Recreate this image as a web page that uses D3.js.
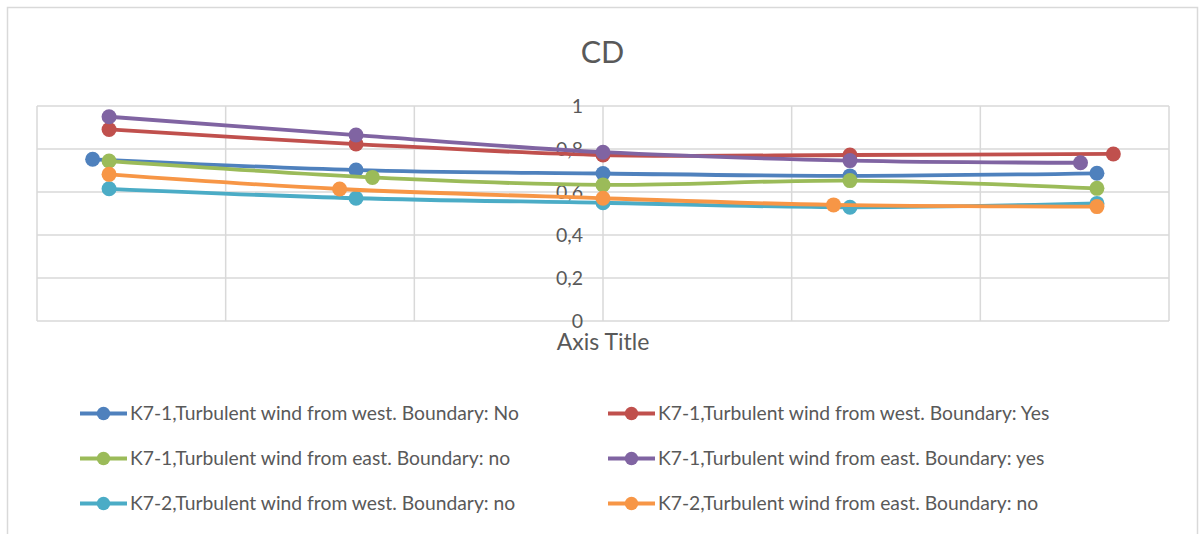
<!DOCTYPE html>
<html>
<head>
<meta charset="utf-8">
<script src="https://cdn.jsdelivr.net/npm/d3@7"></script>
<style>
  html, body { margin: 0; padding: 0; background: #fff; }
  svg { display: block; font-family: Lato, "Open Sans", sans-serif; }
</style>
</head>
<body>
<svg id="chart" width="1199" height="534"></svg>
<script>
// Drag coefficient (CD) against wind angle (radians) for the K7 models
const seriesNames = [
  "K7-1,Turbulent wind from west. Boundary: No",
  "K7-1,Turbulent wind from west. Boundary: Yes",
  "K7-1,Turbulent wind from east. Boundary: no",
  "K7-1,Turbulent wind from east. Boundary: yes",
  "K7-2,Turbulent wind from west. Boundary: no",
  "K7-2,Turbulent wind from east. Boundary: no"
];
const seriesColors = ["#4F81BD", "#C0504D", "#9BBB59", "#8064A2", "#4BACC6", "#F79646"];

const xWestNo   = [-2.705, -1.309, 0, 1.309, 2.618];
const yWestNo   = [0.752, 0.702, 0.686, 0.675, 0.687];
const xWestYes  = [-2.618, -1.309, 0, 1.309, 2.705];
const yWestYes  = [0.891, 0.823, 0.772, 0.772, 0.777];
const xEastNo   = [-2.618, -1.222, 0, 1.309, 2.618];
const yEastNo   = [0.744, 0.668, 0.633, 0.653, 0.617];
const xEastYes  = [-2.618, -1.309, 0, 1.309, 2.531];
const yEastYes  = [0.950, 0.865, 0.785, 0.746, 0.736];
const xK72West  = [-2.618, -1.309, 0, 1.309, 2.618];
const yK72West  = [0.615, 0.571, 0.550, 0.529, 0.547];
const xK72East  = [-2.618, -1.396, 0, 1.222, 2.618];
const yK72East  = [0.682, 0.614, 0.571, 0.540, 0.532];

const xTicks = [-3, -2, -1, 0, 1, 2, 3];
const yTicks = [0, 0.2, 0.4, 0.6, 0.8, 1];
const yTickLabels = ["0", "0,2", "0,4", "0,6", "0,8", "1"];

const seriesX = [xWestNo, xWestYes, xEastNo, xEastYes, xK72West, xK72East];
const seriesY = [yWestNo, yWestYes, yEastNo, yEastYes, yK72West, yK72East];
const series = seriesNames.map((name, i) => ({
  name, color: seriesColors[i],
  points: seriesX[i].map((x, j) => ({ x, y: seriesY[i][j] }))
}));

const svg = d3.select("#chart");
const gridColor = "#D9D9D9";
const textColor = "#595959";

// chart frame
svg.append("rect")
  .attr("x", 7.5).attr("y", 7.5).attr("width", 1190).attr("height", 560)
  .attr("fill", "#fff").attr("stroke", gridColor).attr("stroke-width", 1.5);

const x = d3.scaleLinear().domain([-3, 3]).range([37, 1169]);
const y = d3.scaleLinear().domain([0, 1]).range([321, 106]);

// gridlines
const grid = svg.append("g");
grid.selectAll("line.h").data(yTicks).join("line")
  .attr("x1", x(-3)).attr("x2", x(3))
  .attr("y1", d => y(d)).attr("y2", d => y(d))
  .attr("stroke", gridColor).attr("stroke-width", 1.5);
grid.selectAll("line.v").data(xTicks).join("line")
  .attr("x1", d => x(d)).attr("x2", d => x(d))
  .attr("y1", y(0)).attr("y2", y(1))
  .attr("stroke", gridColor).attr("stroke-width", 1.5);

// value axis crossing at x = 0
const yAxis = d3.axisLeft(y).tickValues(yTicks)
  .tickFormat((d, i) => yTickLabels[i]).tickSize(0).tickPadding(20);
const yAxisG = svg.append("g").attr("transform", `translate(${x(0)},0)`).call(yAxis);
yAxisG.select(".domain").remove();
yAxisG.selectAll("text")
  .attr("fill", textColor).attr("font-size", 19.5)
  .attr("font-family", "Lato, sans-serif");

// series lines and markers
const line = d3.line().x(d => x(d.x)).y(d => y(d.y)).curve(d3.curveCatmullRom.alpha(0));
const sg = svg.append("g").selectAll("g").data(series).join("g");
sg.append("path")
  .attr("d", d => line(d.points))
  .attr("fill", "none").attr("stroke", d => d.color)
  .attr("stroke-width", 3.8).attr("stroke-linecap", "round");
sg.selectAll("circle").data(d => d.points.map(p => ({ ...p, color: d.color }))).join("circle")
  .attr("cx", d => x(d.x)).attr("cy", d => y(d.y)).attr("r", 7.5)
  .attr("fill", d => d.color);

// titles
svg.append("text").attr("x", 602.5).attr("y", 62.5)
  .attr("text-anchor", "middle").attr("fill", textColor)
  .attr("font-size", 30.5).text("CD");
svg.append("text").attr("x", 603).attr("y", 349.5)
  .attr("text-anchor", "middle").attr("fill", textColor)
  .attr("font-size", 23).text("Axis Title");

// legend, two columns
const legendCols = [80, 608];
const legendRows = [413.5, 458.5, 503.5];
const lg = svg.append("g").selectAll("g").data(series).join("g")
  .attr("transform", (d, i) => `translate(${legendCols[i % 2]},${legendRows[Math.floor(i / 2)]})`);
lg.append("line").attr("x1", 0).attr("x2", 47).attr("y1", 0).attr("y2", 0)
  .attr("stroke", d => d.color).attr("stroke-width", 3.8);
lg.append("circle").attr("cx", 23.5).attr("cy", 0).attr("r", 6.7).attr("fill", d => d.color);
lg.append("text").attr("x", 50).attr("y", 6.8)
  .attr("fill", textColor).attr("font-size", 19.3).text(d => d.name);
</script>
</body>
</html>
